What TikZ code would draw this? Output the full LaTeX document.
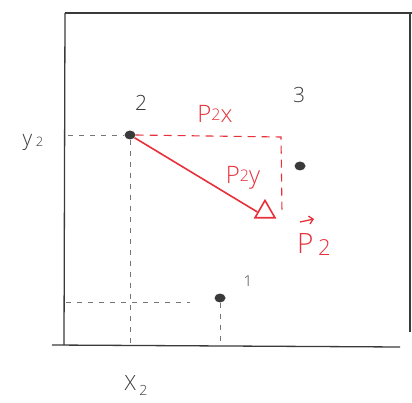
\documentclass[tikz,border=0pt]{standalone}
\usepackage{fontspec}
\setmainfont{Open Sans Light}[BoldFont=Open Sans]
\usetikzlibrary{shapes.geometric,arrows.meta}
\definecolor{pen}{HTML}{E8303A}
\definecolor{ink}{HTML}{3A3A3A}
\begin{document}
\begin{tikzpicture}[x=1pt,y=-1pt,
  dot/.style={ellipse,fill=ink,inner sep=0pt,minimum width=11pt,minimum height=9pt},
  lbl/.style={text=ink,font=\fontsize{21}{21}\selectfont,inner sep=0pt},
  rlbl/.style={text=pen,font=\fontsize{24}{24}\selectfont,inner sep=0pt},
  guide/.style={ink!70,dash pattern=on 5pt off 6pt,line width=0.8pt},
  rguide/.style={pen,dash pattern=on 8pt off 6pt,line width=1.1pt},
  frame/.style={ink,line width=1.3pt}]
\useasboundingbox (0,0) rectangle (412,403);
% frame
\coordinate (tl) at (65,13);
\coordinate (tr) at (412,13);
\coordinate (rt) at (410,13);
\coordinate (rb) at (410,332);
\coordinate (bl) at (52,345);
\coordinate (br) at (400,347);
\coordinate (lb) at (64,345);
\draw[frame] (tl) -- (tr);
\draw[frame] (rt) -- (rb);
\draw[frame] (tl) -- (lb);
\draw[frame] (bl) -- (br);
% points
\node[dot] (p2) at (130,135) {};
\node[dot] (p3) at (300,166) {};
\node[dot] (p1) at (220,298) {};
\node[lbl] (l2) at (141,103) {2};
\node[lbl] (l3) at (299,95) {3};
\node[lbl,font=\fontsize{15}{15}\selectfont] (l1) at (248,281) {1};
\node[lbl] (ly) at (33,142) {y\,\raisebox{-1pt}{\fontsize{13}{13}\selectfont 2}};
\node[lbl] (lx) at (136,386) {X\,\raisebox{-5pt}{\fontsize{14}{14}\selectfont 2}};
% grey guides
\coordinate (gy) at (68,135);
\coordinate (gx) at (130,345);
\coordinate (g1y) at (66,302);
\coordinate (g1e) at (190,302);
\coordinate (g1x) at (220,345);
\draw[guide] (gy) -- (p2);
\draw[guide] (p2) -- (gx);
\draw[guide] (g1y) -- (g1e);
\draw[guide] (p1) -- (g1x);
% red
\node[pen,draw,isosceles triangle,isosceles triangle apex angle=60,shape border rotate=90,
      minimum width=20pt,inner sep=0pt,line width=1.6pt] (tri) at (265,212) {};
\coordinate (corner) at (281,137);
\coordinate (cend) at (282,212);
\draw[rguide] (p2.east) -- (corner) -- (cend);
\draw[pen,line width=1.6pt] (p2) -- (tri.west);
\node[rlbl] (lpx) at (215,114) {P\raisebox{2pt}{\fontsize{16}{16}\selectfont 2}x};
\node[rlbl] (lpy) at (243,178) {P\raisebox{2pt}{\fontsize{16}{16}\selectfont 2}y};
\node[rlbl,font=\fontsize{28}{28}\selectfont,anchor=west] (lp) at (297,245) {P\,\raisebox{-2pt}{\fontsize{22}{22}\selectfont 2}};
\coordinate (va) at (300,222);
\coordinate (vb) at (314,219);
\draw[pen,line width=1.3pt,-{Straight Barb[length=4pt]}] (va) -- (vb);
\end{tikzpicture}
\end{document}
